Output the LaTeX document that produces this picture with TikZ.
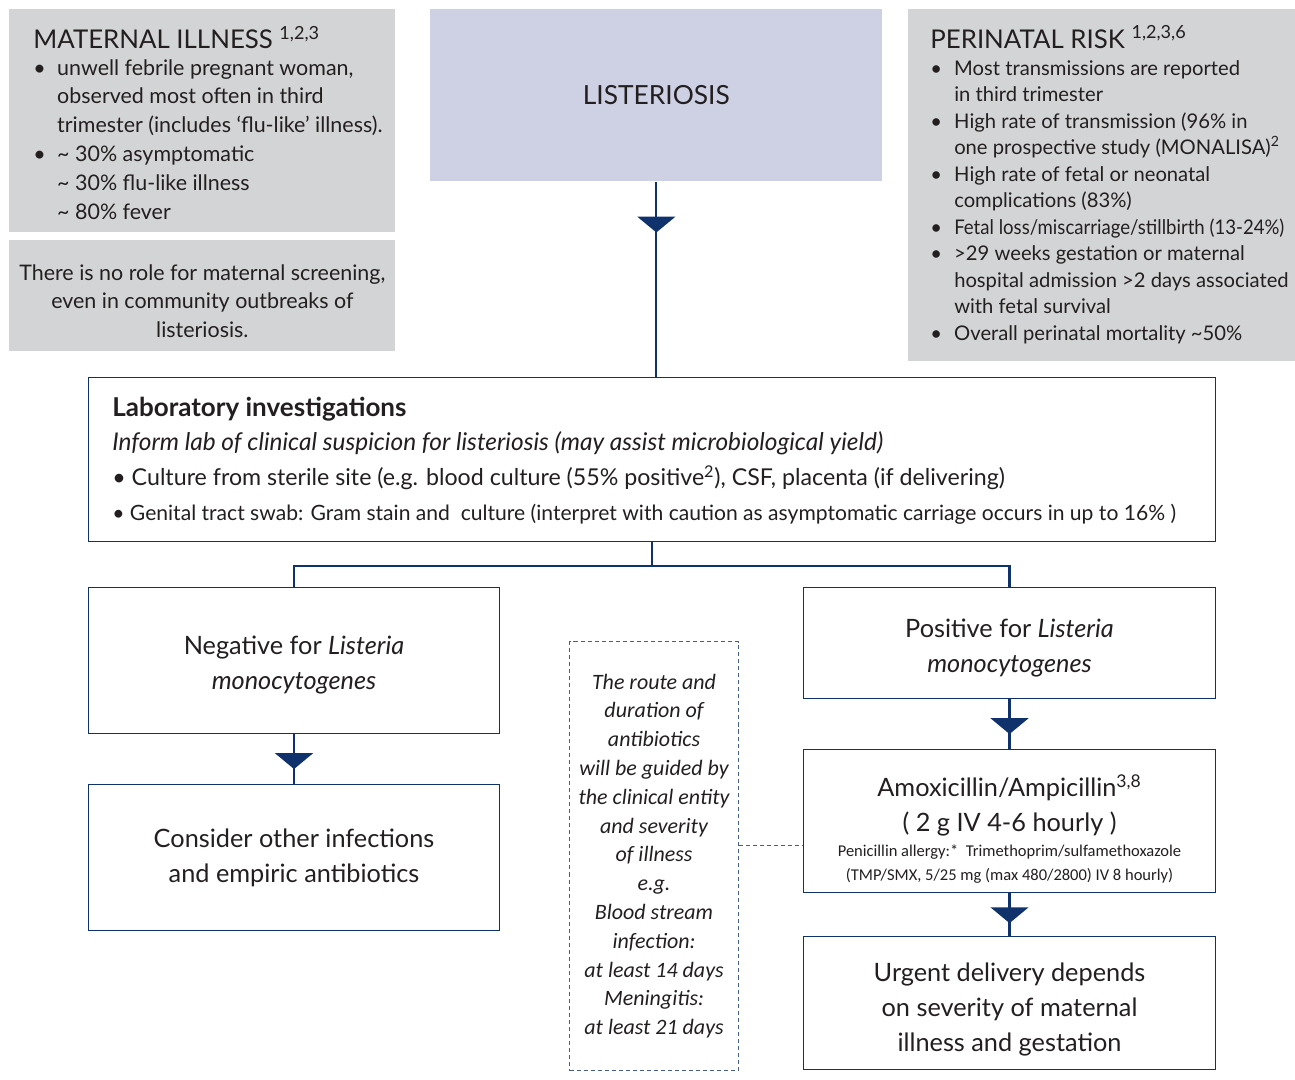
\documentclass[tikz,border=0pt]{standalone}
\usepackage{fontspec}
\setmainfont{Lato}
\newfontfamily\calibri{Carlito}
\usetikzlibrary{arrows.meta,decorations.markings,calc}
\definecolor{marine}{RGB}{16,50,108}
\definecolor{grisclair}{RGB}{211,212,214}
\definecolor{lavande}{RGB}{205,209,227}
\definecolor{encre}{RGB}{35,31,32}
\definecolor{tirets}{RGB}{70,95,140}
\begin{document}
\begin{tikzpicture}[x=0.02cm,y=-0.02cm]
% Styles
\tikzstyle{gris}=[fill=grisclair,inner sep=0pt,anchor=north west]
\tikzstyle{violet}=[fill=lavande,inner sep=0pt,anchor=north west,text=encre,font=\fontsize{15}{18}\selectfont]
\tikzstyle{cadre}=[draw=marine,line width=0.6pt,fill=white,inner sep=0pt,anchor=north west,align=center,text=encre,font=\fontsize{14.4}{20}\selectfont]
\tikzstyle{pointille}=[draw=tirets,line width=0.6pt,dash pattern=on 2.3pt off 1.7pt]
\tikzstyle{note}=[pointille,inner sep=0pt,anchor=north west,align=center,text=encre,font=\calibri\itshape\fontsize{12.5}{16.4}\selectfont]
\tikzstyle{texte}=[inner sep=0pt,anchor=base west,text=encre]
\tikzstyle{titre}=[texte,font=\fontsize{14.7}{17}\selectfont]
\tikzstyle{liste}=[texte,font=\fontsize{12.2}{16.4}\selectfont]
\tikzstyle{liaison}=[marine,line width=1.2pt]
\tikzset{fleche/.style={liaison,decoration={markings,mark=at position #1 with {\arrow{Triangle[width=21.5pt,length=9pt]}}},postaction={decorate}},fleche/.default=0.7}
% Dimensions
\def\pxu{0.02cm}
\useasboundingbox (0,0) rectangle (1295,1079);
% Noeuds : colonne de gauche
\node[gris,minimum width=386*\pxu,minimum height=223*\pxu] (maladie) at (9,9) {};
\node[titre] (titreMal) at ($(maladie.north west)+(24,39.5)$) {MATERNAL ILLNESS \textsuperscript{1,2,3}};
\node[liste] (listeMal) at ($(maladie.north west)+(24,66)$) {\begin{tabular}[t]{@{}p{13.6pt}@{}l@{}}
\textbullet & unwell febrile pregnant woman,\\
 & observed most often in third\\
 & trimester (includes ‘flu-like’ illness).\\
\textbullet & \textasciitilde{} 30\% asymptomatic\\
 & \textasciitilde{} 30\% flu-like illness\\
 & \textasciitilde{} 80\% fever
\end{tabular}};
\node[gris,align=center,text=encre,font=\fontsize{12.2}{16.4}\selectfont,minimum width=386*\pxu,minimum height=111*\pxu] (depistage) at (9,240) {\rule{0pt}{15pt}There is no role for maternal screening,\\even in community outbreaks of\\listeriosis.};
% Noeuds : haut
\node[violet,minimum width=452*\pxu,minimum height=172*\pxu] (listeriose) at (430,9) {LISTERIOSIS};
\node[gris,minimum width=387*\pxu,minimum height=352*\pxu] (risque) at (908,9) {};
\node[titre] (titreRis) at ($(risque.north west)+(22,39)$) {PERINATAL RISK \textsuperscript{1,2,3,6}};
\node[liste,font=\fontsize{11.5}{15.1}\selectfont] (listeRis) at ($(risque.north west)+(22,66)$) {\begin{tabular}[t]{@{}p{13.6pt}@{}l@{}}
\textbullet & Most transmissions are reported\\
 & in third trimester\\
\textbullet & High rate of transmission (96\% in\\
 & one prospective study (MONALISA)\textsuperscript{2}\\
\textbullet & High rate of fetal or neonatal\\
 & complications (83\%)\\
\textbullet & \scalebox{0.92}[1]{Fetal loss/miscarriage/stillbirth (13-24\%)}\\
\textbullet & >29 weeks gestation or maternal\\
 & hospital admission >2 days associated\\
 & with fetal survival\\
\textbullet & Overall perinatal mortality \textasciitilde50\%
\end{tabular}};
% Noeuds : laboratoire
\node[cadre,minimum width=1127*\pxu,minimum height=164*\pxu] (labo) at (88,377) {};
\node[texte,font=\fontsize{12.2}{19.8}\selectfont] (texteLabo) at ($(labo.north west)+(24,39)$) {\begin{tabular}[t]{@{}l@{}}
{\fontsize{14.8}{19.8}\selectfont\bfseries Laboratory investigations}\\
{\fontsize{13.9}{19.8}\selectfont\itshape Inform lab of clinical suspicion for listeriosis (may assist microbiological yield)}\\
{\fontsize{13.2}{19.8}\selectfont\textbullet{} Culture from sterile site (e.g. blood culture (55\% positive\textsuperscript{2}), CSF, placenta (if delivering)}\\
{\fontsize{12}{19.8}\selectfont\textbullet{} Genital tract swab: Gram stain and\ \ culture (interpret with caution as asymptomatic carriage occurs in up to 16\% )}
\end{tabular}};
% Noeuds : resultats
\node[cadre,minimum width=411*\pxu,minimum height=146*\pxu] (negatif) at (88,587) {\rule{0pt}{16pt}Negative for \textit{Listeria}\\\textit{monocytogenes}};
\node[cadre,minimum width=411*\pxu,minimum height=146*\pxu] (autres) at (88,784) {Consider other infections\\and empiric antibiotics};
\node[cadre,minimum width=412*\pxu,minimum height=111*\pxu] (positif) at (803,587) {\rule{0pt}{16pt}Positive for \textit{Listeria}\\\textit{monocytogenes}};
\node[cadre,minimum width=412*\pxu,minimum height=143*\pxu] (amox) at (803,749) {\rule{0pt}{24pt}Amoxicillin/Ampicillin\textsuperscript{3,8}\\( 2 g IV 4-6 hourly )\\[-6pt]{\calibri\fontsize{9.4}{13.6}\selectfont\begin{tabular}[t]{@{}c@{}}Penicillin allergy:*\ \ Trimethoprim/sulfamethoxazole\\(TMP/SMX, 5/25 mg (max 480/2800) IV 8 hourly)\end{tabular}}};
\node[cadre,minimum width=412*\pxu,minimum height=133*\pxu] (urgence) at (803,936) {\rule{0pt}{18pt}Urgent delivery depends\\on severity of maternal\\illness and gestation};
\node[note,minimum width=169*\pxu,minimum height=429*\pxu] (duree) at (569,641) {The route and\\duration of\\antibiotics\\will be guided by\\the clinical entity\\and severity\\of illness\\e.g.\\Blood stream\\infection:\\at least 14 days\\Meningitis:\\at least 21 days};
% Arcs
\draw[fleche=0.26] (listeriose.south) -- (listeriose.south |- labo.north);
\coordinate (partage) at ($(labo.south)+(0,24)$);
\draw[liaison] (labo.south) -- (partage);
\draw[liaison] (partage) -| (negatif.north);
\draw[liaison] (partage) -| (positif.north);
\draw[fleche] (negatif) -- (autres);
\draw[fleche] (positif) -- (amox);
\draw[fleche] (amox) -- (urgence);
\coordinate (lien) at ($(duree.north east)!0.476!(duree.south east)$);
\draw[pointille] (lien) -- (lien -| amox.west);
\end{tikzpicture}
\end{document}
